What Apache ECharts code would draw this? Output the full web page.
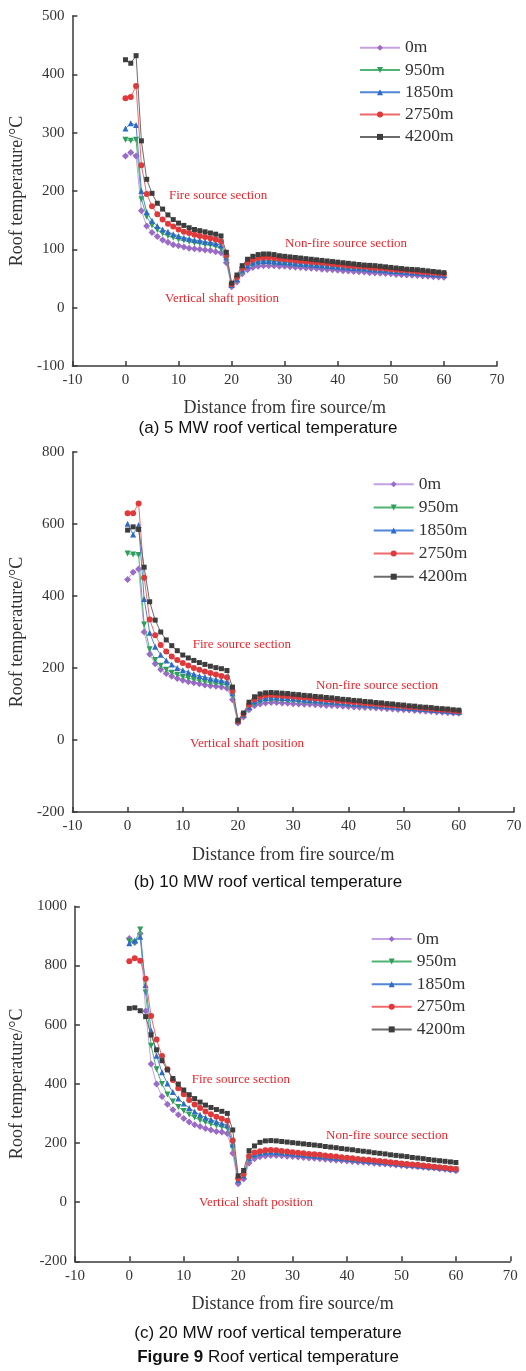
<!DOCTYPE html>
<html>
<head>
<meta charset="utf-8">
<script src="https://cdn.jsdelivr.net/npm/echarts@6/dist/echarts.min.js"></script>
<style>
html,body{margin:0;padding:0;background:#fff;}
#chart{width:526px;height:1371px;}
</style>
</head>
<body>
<div id="chart"></div>
<script>
// Measuring points along the tunnel roof (m from the fire source)
const distance = [0,1,2,3,4,5,6,7,8,9,10,11,12,13,14,15,16,17,18,19,20,21,22,23,24,25,26,27,28,29,30,31,32,33,34,35,36,37,38,39,40,41,42,43,44,45,46,47,48,49,50,51,52,53,54,55,56,57,58,59,60];

// Altitudes (legend names)
const altitudes = ['0m','950m','1850m','2750m','4200m'];

// 5 MW fire, roof temperature (°C)
const temp5MW_0m    = [260,266,260,166,140,129,122,116,112,108, 106,104,102,101,100,99,98,96,94,77, 36,44,58,65,69,71,72,72,72,71, 71,70,69.5,69,68,67.5,67,66,65.5,65, 64,63.5,63,62,61.5,61,60,59.5,59,58.5, 58,57,56.5,56,55.5,55,54.5,54,53,52.5, 52];
const temp5MW_950m  = [288,286,288,186,156,141,133,127,123,120, 117,115,113,111,110,108,107,105,101,83, 38,47,62,70,74,76,77,77,76,76, 75,74,73.5,73,72,71.5,71,70,69.5,69, 68,67.5,67,66,65.5,65,64,63.5,63,62, 61.5,61,60,59.5,59,58,57.5,57,56,55.5, 55];
const temp5MW_1850m = [307,316,313,200,164,149,140,134,130,126, 123,120,118,116,115,113,112,110,107,86, 39,49,65,72,77,79,80,80,79,78.5, 78,77,76,75.5,75,74,73,72.5,72,71, 70,69.5,69,68,67.5,67,66,65.5,65,64, 63,62.5,62,61,60.5,60,59,58,57.5,57, 56];
const temp5MW_2750m = [359,361,380,244,195,174,160,151,144,139, 134,130,128,125,123,121,119,117,114,90, 40,52,68,77,82,85,86,86,85,84, 83,82,81,80,79,78.5,78,77,76,75, 74,73,72,71.5,71,70,69,68,67.5,67, 66,65,64.5,64,63,62,61,60.5,60,59, 58];
const temp5MW_4200m = [425,419,432,286,220,196,179,169,159,151, 145,141,137,134,132,130,128,126,123,95, 42,56,72,83,88,91,92,92,91,89, 88,87,86,85,84,83,82,81,80,79, 78,77,76,75,74,73,72.5,72,71,70, 69,68,67,66,65.5,65,64,63,62,61, 60];

// 10 MW fire, roof temperature (°C)
const temp10MW_0m    = [446,466,475,300,238,212,196,185,177,171, 166,162,159,156,153,151,149,147,144,112, 47,64,84,95,100,103,104,104,103,102, 101,100,99.5,99,98,97,96,95.5,95,94, 93,92,91,90.5,90,89,88,87,86,85, 84,83,82,81,80,79,78,77,76,75, 74];
const temp10MW_950m  = [518,515,514,321,252,222,206,195,187,181, 176,172,168,165,162,159,157,155,152,124, 50,68,88,101,107,110,111,111,110,109, 108,107,106,105,104,103,102,101,100,99, 98,97,96,95,94,93,92,91,90,89, 88,87,86,85,84,83,82,81,80,78, 77];
const temp10MW_1850m = [601,571,597,392,298,259,237,221,210,200, 194,188,183,178,175,171,168,165,162,130, 52,70,92,107,113,117,118,118,117,116, 115,114,112,111,110,109,107,106,105,104, 102,101,100,99,97,96,95,94,93,91, 90,89,88,87,86,84,83,82,81,79, 78];
const temp10MW_2750m = [630,630,657,451,335,291,264,246,232,222, 214,207,200,195,190,186,182,178,174,137, 53,72,98,113,120,124,125,124,123,122, 121,119,118,117,115,114,112,111,109,108, 106,105,104,102,101,100,98,97,96,95, 93,92,91,89,88,87,85,84,83,81, 80];
const temp10MW_4200m = [583,592,585,480,384,333,300,278,262,248, 236,228,221,215,210,205,201,198,193,147, 55,75,105,120,128,131,132,131,130,129, 127,126,124,123,121,120,118,117,115,113, 112,110,109,107,106,104,103,101,100,98, 97,95,94,92,91,90,88,87,86,84, 83];

// 20 MW fire, roof temperature (°C)
const temp20MW_0m    = [891,878,908,646,467,399,357,331,312,295, 283,271,262,256,249,244,239,237,232,165, 62,78,132,147,153,156,158,158,157,155.5, 154,152.5,151,149.5,148,146.5,145,143.5,142,140.5, 139,137.5,136,134.5,133,131.5,130,128.5,127,125.5, 124,122.5,121,119.5,118,116.5,115,113,111,108.5, 106];
const temp20MW_950m  = [882,878,922,709,529,449,399,364,340,322, 308,296,286,277,270,264,259,254,250,185, 72,85,144,157,162,165,166,165,164,162, 160.5,159,157,155.5,154,152,150.5,149,147,145.5, 144,142,140.5,139,137,135.5,134,132,130.5,129, 127,125.5,124,122,120.5,119,117,115.5,114,112, 110];
const temp20MW_1850m = [875,884,897,734,580,495,439,401,372,350, 333,318,306,295,286,279,272,266,260,195, 75,90,148,161,166,169,170,169,168,166, 164,162.5,161,159,157,155.5,154,152,150,148.5, 147,145,143,141.5,140,138,136,134.5,133,131, 129,127.5,126,124,122,120.5,119,117,115,113, 111];
const temp20MW_2750m = [814,824,816,755,629,550,494,449,413,385, 365,345,330,318,306,297,289,282,275,208, 80,95,156,168,172,175,176,175,173,171, 169,167,165,163,161.5,160,158,156,154,152, 150,148,146,144.5,143,141,139,137,135,133, 131,129,127.5,126,124,122,120,118,116,114, 112];
const temp20MW_4200m = [655,657,647,627,565,515,478,447,418,399, 379,363,350,338,328,320,313,307,300,244, 89,107,174,190,202,207,208,207,205,203, 201,199,197,195,193,191,188,186,184,181, 179,177,174,172,170,167,165,163,160,158, 156,154,151,149,147,144,142,140,138,136, 134];

// Axis ranges
const xRange = { min: -10, max: 70, interval: 10 };
const yRanges = [
  { min: -100, max: 500, interval: 100 },
  { min: -200, max: 800, interval: 200 },
  { min: -200, max: 1000, interval: 200 }
];

// Text
const captions = ['(a) 5 MW roof vertical temperature', '(b) 10 MW roof vertical temperature', '(c) 20 MW roof vertical temperature'];
const noteTexts = ['Fire source section', 'Non-fire source section', 'Vertical shaft position'];
const xAxisName = 'Distance from fire source/m';
const yAxisName = 'Roof temperature/\u00B0C';

const panelValues = [
  [temp5MW_0m, temp5MW_950m, temp5MW_1850m, temp5MW_2750m, temp5MW_4200m],
  [temp10MW_0m, temp10MW_950m, temp10MW_1850m, temp10MW_2750m, temp10MW_4200m],
  [temp20MW_0m, temp20MW_950m, temp20MW_1850m, temp20MW_2750m, temp20MW_4200m]
];

// ---- layout & style ----
const SERIF = "'Liberation Serif','Times New Roman',serif";
const SANS = "'Liberation Sans',Arial,sans-serif";
const AXIS = '#3a3a3a';
const NOTE = '#e8262c';

const markerColors = ['#9b6bc8', '#2e9e5a', '#2e6bc4', '#e0393b', '#3d3d3d'];
const lineColors = ['#c4a2e2', '#50b474', '#4f86d6', '#ef6b6b', '#6b6b6b'];
const symbols = ['diamond', 'triangle', 'triangle', 'circle', 'rect'];
const symbolRotates = [0, 180, 0, 0, 0];
const symbolSizes = [7, 6, 6, 6, 5];

const layout = [
  { grid: { left: 66, top: 16, width: 431, height: 350 }, yNameGap: 37, xNameGap: 33,
    legend: { left: 359, top: 38.7, gap: 4.3 }, captionY: 428,
    notes: [[169, 196], [285, 243.3], [165, 299]] },
  { grid: { left: 71, top: 452, width: 443, height: 360 }, yNameGap: 39, xNameGap: 34,
    legend: { left: 372.7, top: 475.3, gap: 5.1 }, captionY: 882.7,
    notes: [[192.7, 644.3], [316, 685.7], [190, 743.7]] },
  { grid: { left: 72.3, top: 906.3, width: 438, height: 355 }, yNameGap: 40, xNameGap: 34,
    legend: { left: 370.7, top: 930, gap: 4.6 }, captionY: 1333,
    notes: [[191.7, 1079.3], [326, 1136], [199, 1202.3]] }
];

const grids = [], xAxes = [], yAxes = [], series = [], legends = [], graphics = [];
const plainNumber = v => String(v);

layout.forEach((L, p) => {
  grids.push(Object.assign({ containLabel: false }, L.grid));
  xAxes.push({
    type: 'value', gridIndex: p, min: xRange.min, max: xRange.max, interval: xRange.interval,
    name: xAxisName, nameLocation: 'middle', nameGap: L.xNameGap,
    nameTextStyle: { fontFamily: SERIF, fontSize: 18, color: '#333' },
    axisLine: { onZero: false, lineStyle: { color: AXIS, width: 1.5 } },
    axisTick: { inside: true, length: 5, lineStyle: { color: AXIS, width: 1.5 } },
    axisLabel: { fontFamily: SERIF, fontSize: 15, color: '#333', margin: 7, formatter: plainNumber },
    splitLine: { show: false }
  });
  const yr = yRanges[p];
  yAxes.push({
    type: 'value', gridIndex: p, min: yr.min, max: yr.max, interval: yr.interval,
    name: yAxisName, nameLocation: 'middle', nameGap: L.yNameGap, nameRotate: 90,
    nameTextStyle: { fontFamily: SERIF, fontSize: 18, color: '#333' },
    axisLine: { show: true, onZero: false, lineStyle: { color: AXIS, width: 1.5 } },
    axisTick: { show: true, inside: true, length: 5, lineStyle: { color: AXIS, width: 1.5 } },
    axisLabel: { fontFamily: SERIF, fontSize: 15, color: '#333', margin: 8, formatter: plainNumber },
    splitLine: { show: false }
  });
  panelValues[p].forEach((vals, i) => {
    series.push({
      type: 'line', name: altitudes[i], xAxisIndex: p, yAxisIndex: p,
      data: distance.map((d, k) => [d, vals[k]]),
      symbol: symbols[i], symbolSize: symbolSizes[i], symbolRotate: symbolRotates[i],
      showAllSymbol: true,
      itemStyle: { color: markerColors[i] },
      lineStyle: { color: lineColors[i], width: 1 },
      emphasis: { disabled: true },
      z: 2 + i
    });
  });
  legends.push({
    data: altitudes, orient: 'vertical', left: L.legend.left, top: L.legend.top,
    padding: 0, itemGap: L.legend.gap, itemWidth: 40, itemHeight: 7.5,
    textStyle: { fontFamily: SERIF, fontSize: 17.5, color: '#333', lineHeight: 18 },
    selectedMode: false
  });
  L.notes.forEach((pos, n) => {
    graphics.push({
      type: 'text', x: pos[0], y: pos[1], silent: true,
      style: { text: noteTexts[n], fill: NOTE, font: '13px ' + SERIF, align: 'left', verticalAlign: 'middle' }
    });
  });
  graphics.push({
    type: 'text', x: 268, y: L.captionY, silent: true,
    style: { text: captions[p], fill: '#111', font: '17px ' + SANS, align: 'center', verticalAlign: 'middle' }
  });
});

graphics.push({
  type: 'text', x: 268, y: 1357.7, silent: true,
  style: {
    text: '{b|Figure 9} Roof vertical temperature', fill: '#111', font: '17px ' + SANS,
    align: 'center', verticalAlign: 'middle',
    rich: { b: { fontWeight: 'bold', fontSize: 17, fontFamily: SANS, fill: '#111' } }
  }
});

const chart = echarts.init(document.getElementById('chart'), null, { renderer: 'canvas' });
chart.setOption({
  animation: false,
  backgroundColor: '#fff',
  grid: grids, xAxis: xAxes, yAxis: yAxes, series: series, legend: legends, graphic: graphics
});
</script>
</body>
</html>
